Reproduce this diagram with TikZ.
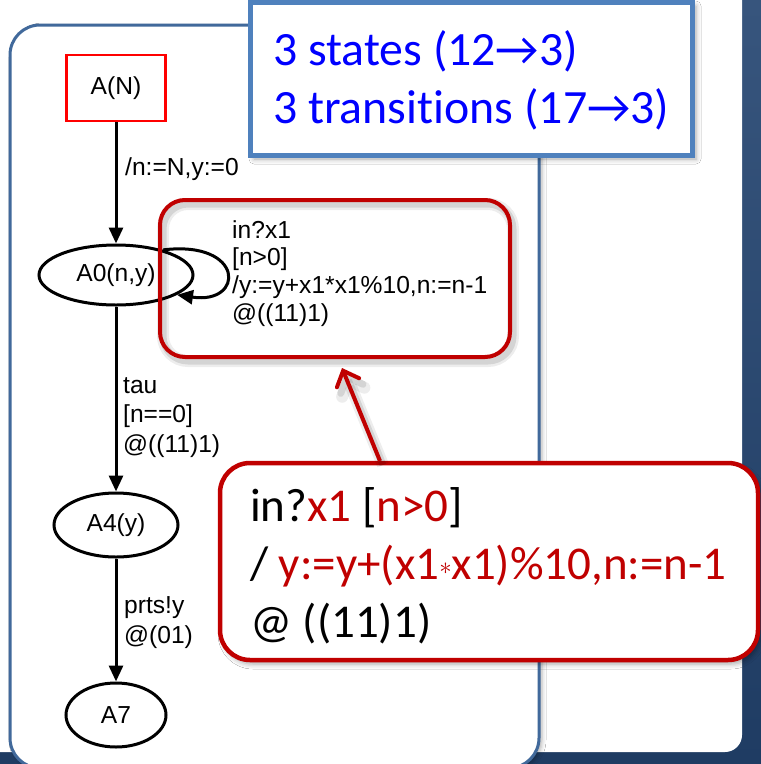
\documentclass[tikz,border=0pt]{standalone}
\usepackage{fontspec}
\usetikzlibrary{arrows.meta,shapes.geometric,shadows.blur}
\newfontfamily\graphfont{Liberation Sans}
\newfontfamily\slidefont[Ligatures={NoCommon}]{Carlito}
\definecolor{bgtop}{HTML}{37557D}
\definecolor{bgbot}{HTML}{1F3C63}
\definecolor{panelblue}{HTML}{41699B}
\definecolor{topblue}{HTML}{4F81BD}
\definecolor{nred}{HTML}{C00000}
\definecolor{textblue}{HTML}{0000FF}
\definecolor{startred}{HTML}{FF0000}
\tikzset{
  gtext/.style={font=\graphfont\fontsize{24.6}{28}\selectfont, inner sep=0pt},
  lbl/.style={gtext, align=left, anchor=base west},
  staterect/.style={gtext, draw=startred, line width=2.2pt, rectangle,
    minimum width=99pt, minimum height=66pt},
  stateell/.style={gtext, draw=black, line width=3pt, ellipse},
  edge/.style={draw=black, line width=3pt,
    -{Triangle[length=16pt,width=14pt]}},
  stroke shadow/.style={
    preaction={draw=black, opacity=0.07, line width=12pt,
      transform canvas={shift={(3pt,-4pt)}}},
    preaction={draw=black, opacity=0.10, line width=7pt,
      transform canvas={shift={(3pt,-4pt)}}}},
  notebox/.style={draw=nred, line width=4pt, rounded corners=25pt,
    inner sep=0pt, stroke shadow},
  bigbox/.style={draw=nred, fill=white, line width=4.5pt, rounded corners=30pt,
    inner sep=0pt,
    blur shadow={shadow xshift=3pt, shadow yshift=-4pt,
      shadow blur radius=5pt, shadow opacity=35}},
  statsbox/.style={draw=topblue, fill=white, line width=5pt, inner sep=0pt,
    blur shadow={shadow xshift=4pt, shadow yshift=-4pt,
      shadow blur radius=5pt, shadow opacity=35}},
  slidetext/.style={font=\slidefont\fontsize{47}{58}\selectfont,
    inner sep=0pt, align=left, anchor=base west},
  redarrow/.style={draw=nred, line width=4pt, stroke shadow,
    -{Straight Barb[length=13pt,width=24pt,line cap=round]}}
}
\begin{document}
\begin{tikzpicture}[x=1pt,y=-1pt]
\useasboundingbox (0,0) rectangle (761,764);

% slide background and content area
\shade[top color=bgtop, bottom color=bgbot] (0,0) rectangle (761,764);
\fill[white, rounded corners=17pt] (-40,-40) rectangle (742,752);

% panel holding the state graph
\draw[panelblue, line width=3pt, fill=white, rounded corners=30pt,
  blur shadow={shadow xshift=3pt, shadow yshift=-2pt,
    shadow blur radius=4pt, shadow opacity=30}]
  (10,25) rectangle (539,768);

% states
\node[staterect] (AN) at (116,88) {A(N)};
\node[stateell, minimum width=154pt, minimum height=60pt] (A0) at (116,275) {A0(n,y)};
\node[stateell, minimum width=124pt, minimum height=64pt] (A4) at (116,525) {A4(y)};
\node[stateell, minimum width=100pt, minimum height=64pt] (A7) at (116,715) {A7};

% transitions
\draw[edge] (AN) -- (A0);
\draw[edge] (A0.28) .. controls (245,240) and (245,305) .. (A0.-18);
\draw[edge] (A0) -- (A4);
\draw[edge] (A4) -- (A7);

% transition labels (each node is anchored at the baseline of its last line)
\node[lbl] (lInit) at (125,175) {/n:=N,y:=0};
\node[lbl, font=\graphfont\fontsize{24.6}{29.5}\selectfont] (lTau) at (123,452)
  {tau\\{}[n==0]\\@((11)1)};
\node[lbl, font=\graphfont\fontsize{24.6}{30}\selectfont] (lOut) at (124,643)
  {prts!y\\@(01)};
\node[lbl, font=\graphfont\fontsize{24.6}{27.8}\selectfont] (lLoop) at (232,321.5)
  {in?x1\\{}[n>0]\\/y:=y+x1*x1\%10,n:=n-1\\@((11)1)};

% highlight round the loop label
\node[notebox, minimum width=350pt, minimum height=157pt] (note) at (335,278.5) {};

% counts box
\node[statsbox, minimum width=442pt, minimum height=153pt] (stats) at (471,78.5) {};
\node[slidetext, text=textblue, font=\slidefont\fontsize{47.8}{58}\selectfont]
  (statsText) at (273,123)
  {3 states (12→3)\\3 transitions (17→3)};

% enlarged transition label
\node[bigbox, minimum width=538pt, minimum height=197pt] (big) at (489,561.5) {};
\node[slidetext] (bigText) at (250,637)
  {in?\textcolor{nred}{x1} [\textcolor{nred}{n>0}]\\
   / \textcolor{nred}{y:=y+(x1\raisebox{5pt}{\fontsize{26}{26}\selectfont$\ast$}x1)\%10,n:=n-1}\\
   @ ((11)1)};

% pointer from the enlarged label to the loop label
\coordinate (tail) at (380,461);
\coordinate (tip) at (342,368);
\draw[redarrow] (tail) -- (tip);
\end{tikzpicture}
\end{document}
